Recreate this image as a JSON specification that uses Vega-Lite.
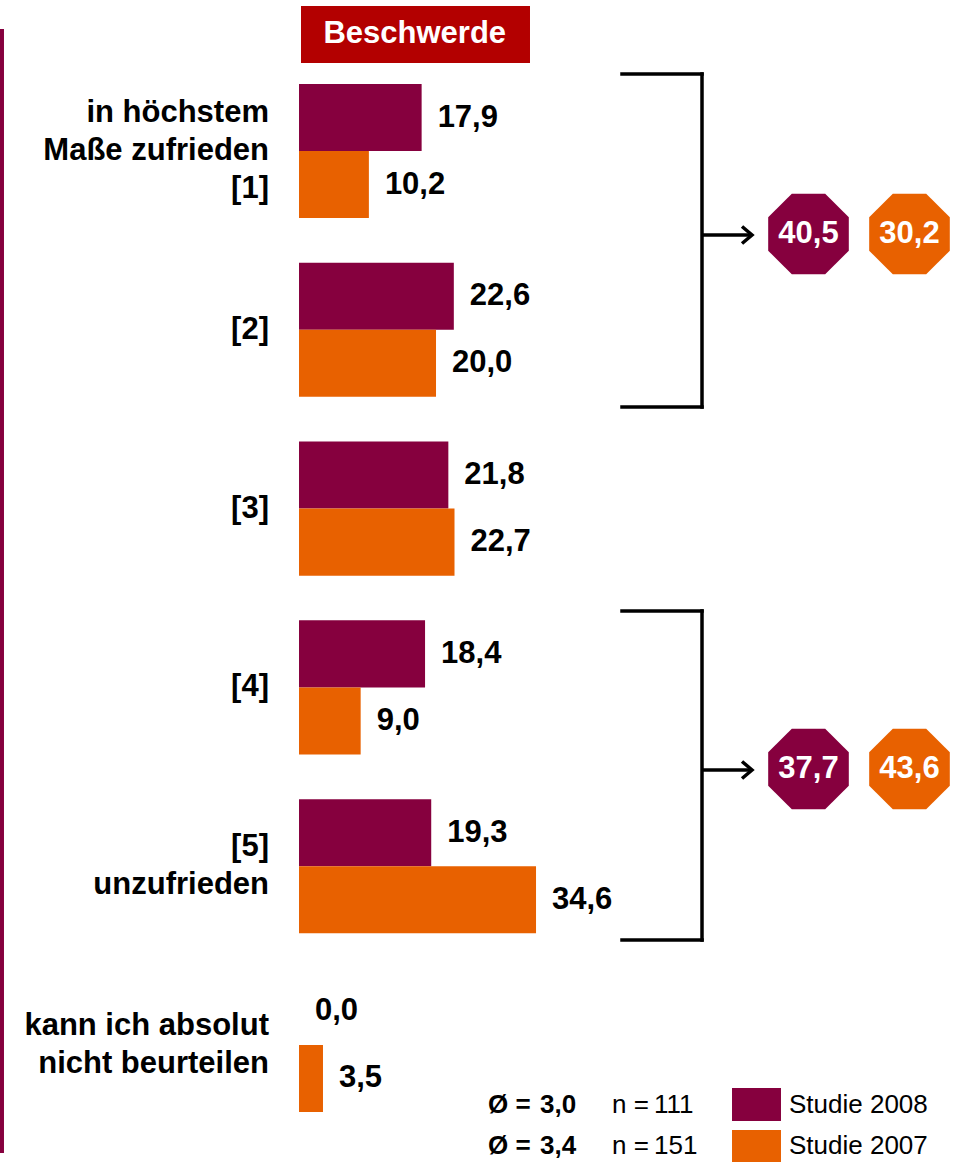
{
  "$schema": "https://vega.github.io/schema/vega-lite/v6.json",
  "description": "Zufriedenheit mit der Beschwerde: Studie 2008 vs. Studie 2007 (Anteile in %)",
  "width": 963,
  "height": 1162,
  "padding": 0,
  "autosize": {"type": "none"},
  "background": "#ffffff",
  "config": {
    "view": {"stroke": null},
    "font": "Liberation Sans",
    "locale": {"number": {"decimal": ",", "thousands": ".", "grouping": [3], "currency": ["", " €"]}}
  },
  "datasets": {
    "answers": [
      {"answer": "in höchstem\nMaße zufrieden\n[1]", "series": "Studie 2008", "percent": 17.9},
      {"answer": "in höchstem\nMaße zufrieden\n[1]", "series": "Studie 2007", "percent": 10.2},
      {"answer": "[2]", "series": "Studie 2008", "percent": 22.6},
      {"answer": "[2]", "series": "Studie 2007", "percent": 20.0},
      {"answer": "[3]", "series": "Studie 2008", "percent": 21.8},
      {"answer": "[3]", "series": "Studie 2007", "percent": 22.7},
      {"answer": "[4]", "series": "Studie 2008", "percent": 18.4},
      {"answer": "[4]", "series": "Studie 2007", "percent": 9.0},
      {"answer": "[5]\nunzufrieden", "series": "Studie 2008", "percent": 19.3},
      {"answer": "[5]\nunzufrieden", "series": "Studie 2007", "percent": 34.6},
      {"answer": "kann ich absolut\nnicht beurteilen", "series": "Studie 2008", "percent": 0.0},
      {"answer": "kann ich absolut\nnicht beurteilen", "series": "Studie 2007", "percent": 3.5}
    ],
    "categories": [
      {"answer": "in höchstem\nMaße zufrieden\n[1]"},
      {"answer": "[2]"},
      {"answer": "[3]"},
      {"answer": "[4]"},
      {"answer": "[5]\nunzufrieden"},
      {"answer": "kann ich absolut\nnicht beurteilen"}
    ],
    "groupTotals": [
      {"span": "[1]–[2]", "series": "Studie 2008", "total": 40.5},
      {"span": "[1]–[2]", "series": "Studie 2007", "total": 30.2},
      {"span": "[4]–[5]", "series": "Studie 2008", "total": 37.7},
      {"span": "[4]–[5]", "series": "Studie 2007", "total": 43.6}
    ],
    "samples": [
      {"series": "Studie 2008", "mean": 3.0, "n": 111},
      {"series": "Studie 2007", "mean": 3.4, "n": 151}
    ]
  },
  "resolve": {"scale": {"x": "independent", "y": "independent"}},
  "layer": [
    {
      "data": {"name": "answers"},
      "layer": [
        {
          "mark": {"type": "bar"},
          "encoding": {
            "y": {"field": "answer", "type": "nominal", "sort": null, "axis": null,
              "scale": {"type": "band", "domain": ["in höchstem\nMaße zufrieden\n[1]", "[2]", "[3]", "[4]", "[5]\nunzufrieden", "kann ich absolut\nnicht beurteilen"], "range": [84, 1112], "paddingInner": 0.25, "paddingOuter": 0}},
            "yOffset": {"field": "series", "type": "nominal", "sort": null,
              "scale": {"domain": ["Studie 2008", "Studie 2007"], "paddingInner": 0, "paddingOuter": 0}},
            "x": {"field": "percent", "type": "quantitative", "axis": null,
              "scale": {"domain": [-43.65, 96.93], "nice": false, "zero": false}},
            "x2": {"datum": 0},
            "color": {"field": "series", "type": "nominal", "legend": null,
              "scale": {"domain": ["Studie 2008", "Studie 2007"], "range": ["#86003E", "#E86100"]}}
          }
        },
        {
          "mark": {"type": "text", "align": "left", "baseline": "middle", "dx": 16, "fontSize": 31, "fontWeight": "bold", "color": "#000000"},
          "encoding": {
            "y": {"field": "answer", "type": "nominal", "sort": null, "axis": null},
            "yOffset": {"field": "series", "type": "nominal", "sort": null},
            "x": {"field": "percent", "type": "quantitative", "axis": null},
            "text": {"field": "percent", "type": "quantitative", "format": ".1f"}
          }
        },
        {
          "data": {"name": "categories"},
          "transform": [{"filter": "length(split(datum.answer, '\\n')) === 3"}],
          "mark": {"type": "text", "align": "right", "baseline": "middle", "dy": -38, "fontSize": 31, "fontWeight": "bold", "lineHeight": 38, "lineBreak": "\n", "color": "#000000"},
          "encoding": {
            "y": {"field": "answer", "type": "nominal", "sort": null, "axis": null},
            "x": {"datum": -4.38, "type": "quantitative", "axis": null},
            "text": {"field": "answer", "type": "nominal"}
          }
        },
        {
          "data": {"name": "categories"},
          "transform": [{"filter": "length(split(datum.answer, '\\n')) === 2"}],
          "mark": {"type": "text", "align": "right", "baseline": "middle", "dy": -19, "fontSize": 31, "fontWeight": "bold", "lineHeight": 38, "lineBreak": "\n", "color": "#000000"},
          "encoding": {
            "y": {"field": "answer", "type": "nominal", "sort": null, "axis": null},
            "x": {"datum": -4.38, "type": "quantitative", "axis": null},
            "text": {"field": "answer", "type": "nominal"}
          }
        },
        {
          "data": {"name": "categories"},
          "transform": [{"filter": "length(split(datum.answer, '\\n')) === 1"}],
          "mark": {"type": "text", "align": "right", "baseline": "middle", "fontSize": 31, "fontWeight": "bold", "color": "#000000"},
          "encoding": {
            "y": {"field": "answer", "type": "nominal", "sort": null, "axis": null},
            "x": {"datum": -4.38, "type": "quantitative", "axis": null},
            "text": {"field": "answer", "type": "nominal"}
          }
        }
      ]
    },
    {
      "data": {"values": [{}]},
      "layer": [
        {
          "mark": {"type": "rule", "color": "#86003E", "strokeWidth": 4},
          "encoding": {
            "x": {"datum": -43.36, "type": "quantitative", "axis": null, "scale": {"domain": [-43.65, 96.93], "nice": false, "zero": false}},
            "y": {"datum": -0.3076, "type": "quantitative", "axis": null, "scale": {"domain": [-0.46985, 6.0297], "nice": false, "zero": false, "reverse": true}},
            "y2": {"datum": 5.9794}
          }
        },
        {
          "mark": {"type": "rect", "color": "#B30000"},
          "encoding": {
            "x": {"datum": 0.29, "type": "quantitative"}, "x2": {"datum": 33.72},
            "y": {"datum": -0.4363, "type": "quantitative"}, "y2": {"datum": -0.1175}
          }
        },
        {
          "mark": {"type": "text", "align": "center", "baseline": "middle", "fontSize": 31, "fontWeight": "bold", "color": "#ffffff"},
          "encoding": {
            "x": {"datum": 16.9, "type": "quantitative"},
            "y": {"datum": -0.2769, "type": "quantitative"},
            "text": {"value": "Beschwerde"}
          }
        },
        {
          "mark": {"type": "rule", "color": "#000000", "strokeWidth": 3.5, "strokeCap": "square"},
          "encoding": {"x": {"datum": 47.15, "type": "quantitative"}, "x2": {"datum": 58.83}, "y": {"datum": -0.0559, "type": "quantitative"}}
        },
        {
          "mark": {"type": "rule", "color": "#000000", "strokeWidth": 3.5, "strokeCap": "square"},
          "encoding": {"x": {"datum": 58.83, "type": "quantitative"}, "y": {"datum": -0.0559, "type": "quantitative"}, "y2": {"datum": 1.8067}}
        },
        {
          "mark": {"type": "rule", "color": "#000000", "strokeWidth": 3.5, "strokeCap": "square"},
          "encoding": {"x": {"datum": 47.15, "type": "quantitative"}, "x2": {"datum": 58.83}, "y": {"datum": 1.8067, "type": "quantitative"}}
        },
        {
          "mark": {"type": "rule", "color": "#000000", "strokeWidth": 3.5},
          "encoding": {"x": {"datum": 58.83, "type": "quantitative"}, "x2": {"datum": 65.84}, "y": {"datum": 0.8446, "type": "quantitative"}}
        },
        {
          "mark": {"type": "point", "shape": "M-1,-0.85L0,0L-1,0.85", "size": 400, "filled": false, "opacity": 1, "color": "#000000", "strokeWidth": 3.5, "strokeJoin": "miter"},
          "encoding": {"x": {"datum": 66.13, "type": "quantitative"}, "y": {"datum": 0.8446, "type": "quantitative"}}
        },
        {
          "mark": {"type": "rule", "color": "#000000", "strokeWidth": 3.5, "strokeCap": "square"},
          "encoding": {"x": {"datum": 47.15, "type": "quantitative"}, "x2": {"datum": 58.83}, "y": {"datum": 2.9477, "type": "quantitative"}}
        },
        {
          "mark": {"type": "rule", "color": "#000000", "strokeWidth": 3.5, "strokeCap": "square"},
          "encoding": {"x": {"datum": 58.83, "type": "quantitative"}, "y": {"datum": 2.9477, "type": "quantitative"}, "y2": {"datum": 4.788}}
        },
        {
          "mark": {"type": "rule", "color": "#000000", "strokeWidth": 3.5, "strokeCap": "square"},
          "encoding": {"x": {"datum": 47.15, "type": "quantitative"}, "x2": {"datum": 58.83}, "y": {"datum": 4.788, "type": "quantitative"}}
        },
        {
          "mark": {"type": "rule", "color": "#000000", "strokeWidth": 3.5},
          "encoding": {"x": {"datum": 58.83, "type": "quantitative"}, "x2": {"datum": 65.84}, "y": {"datum": 3.8371, "type": "quantitative"}}
        },
        {
          "mark": {"type": "point", "shape": "M-1,-0.85L0,0L-1,0.85", "size": 400, "filled": false, "opacity": 1, "color": "#000000", "strokeWidth": 3.5, "strokeJoin": "miter"},
          "encoding": {"x": {"datum": 66.13, "type": "quantitative"}, "y": {"datum": 3.8371, "type": "quantitative"}}
        }
      ]
    },
    {
      "data": {"name": "samples"},
      "encoding": {
        "y": {"field": "series", "type": "nominal", "sort": null, "axis": null,
          "scale": {"type": "band", "domain": ["Studie 2008", "Studie 2007"], "range": [1088, 1163], "paddingInner": 0.214, "paddingOuter": 0}}
      },
      "layer": [
        {
          "mark": {"type": "text", "align": "left", "baseline": "middle", "fontSize": 26, "fontWeight": "bold", "color": "#000000"},
          "encoding": {
            "x": {"datum": 27.59, "type": "quantitative", "axis": null, "scale": {"domain": [-43.65, 96.93], "nice": false, "zero": false}},
            "text": {"value": "Ø ="}
          }
        },
        {
          "mark": {"type": "text", "align": "left", "baseline": "middle", "fontSize": 26, "fontWeight": "bold", "color": "#000000"},
          "encoding": {
            "x": {"datum": 35.18, "type": "quantitative"},
            "text": {"field": "mean", "type": "quantitative", "format": ".1f"}
          }
        },
        {
          "mark": {"type": "text", "align": "left", "baseline": "middle", "fontSize": 26, "color": "#000000"},
          "encoding": {
            "x": {"datum": 45.69, "type": "quantitative"},
            "text": {"value": "n ="}
          }
        },
        {
          "mark": {"type": "text", "align": "left", "baseline": "middle", "fontSize": 26, "color": "#000000"},
          "encoding": {
            "x": {"datum": 51.82, "type": "quantitative"},
            "text": {"field": "n", "type": "quantitative", "format": "d"}
          }
        },
        {
          "mark": {"type": "rect"},
          "encoding": {
            "x": {"datum": 63.21, "type": "quantitative"}, "x2": {"datum": 70.36},
            "color": {"field": "series", "type": "nominal", "legend": null}
          }
        },
        {
          "mark": {"type": "text", "align": "left", "baseline": "middle", "fontSize": 26, "color": "#000000"},
          "encoding": {
            "x": {"datum": 71.53, "type": "quantitative"},
            "text": {"field": "series", "type": "nominal"}
          }
        }
      ]
    },
    {
      "data": {"name": "groupTotals"},
      "encoding": {
        "x": {"field": "series", "type": "nominal", "sort": null, "axis": null,
          "scale": {"type": "band", "domain": ["Studie 2008", "Studie 2007"], "range": [768, 950], "paddingInner": 0.198, "paddingOuter": 0}},
        "y": {"field": "span", "type": "nominal", "sort": null, "axis": null,
          "scale": {"type": "band", "domain": ["[1]–[2]", "[4]–[5]"], "range": [194, 809], "paddingInner": 0.8505, "paddingOuter": 0}}
      },
      "layer": [
        {
          "mark": {"type": "point", "shape": "M-0.4142,-1L0.4142,-1L1,-0.4142L1,0.4142L0.4142,1L-0.4142,1L-1,0.4142L-1,-0.4142Z", "size": 6500, "filled": true, "opacity": 1, "strokeWidth": 0},
          "encoding": {"color": {"field": "series", "type": "nominal", "legend": null}}
        },
        {
          "mark": {"type": "text", "align": "center", "baseline": "middle", "fontSize": 31, "fontWeight": "bold", "color": "#ffffff"},
          "encoding": {"text": {"field": "total", "type": "quantitative", "format": ".1f"}}
        }
      ]
    }
  ]
}
